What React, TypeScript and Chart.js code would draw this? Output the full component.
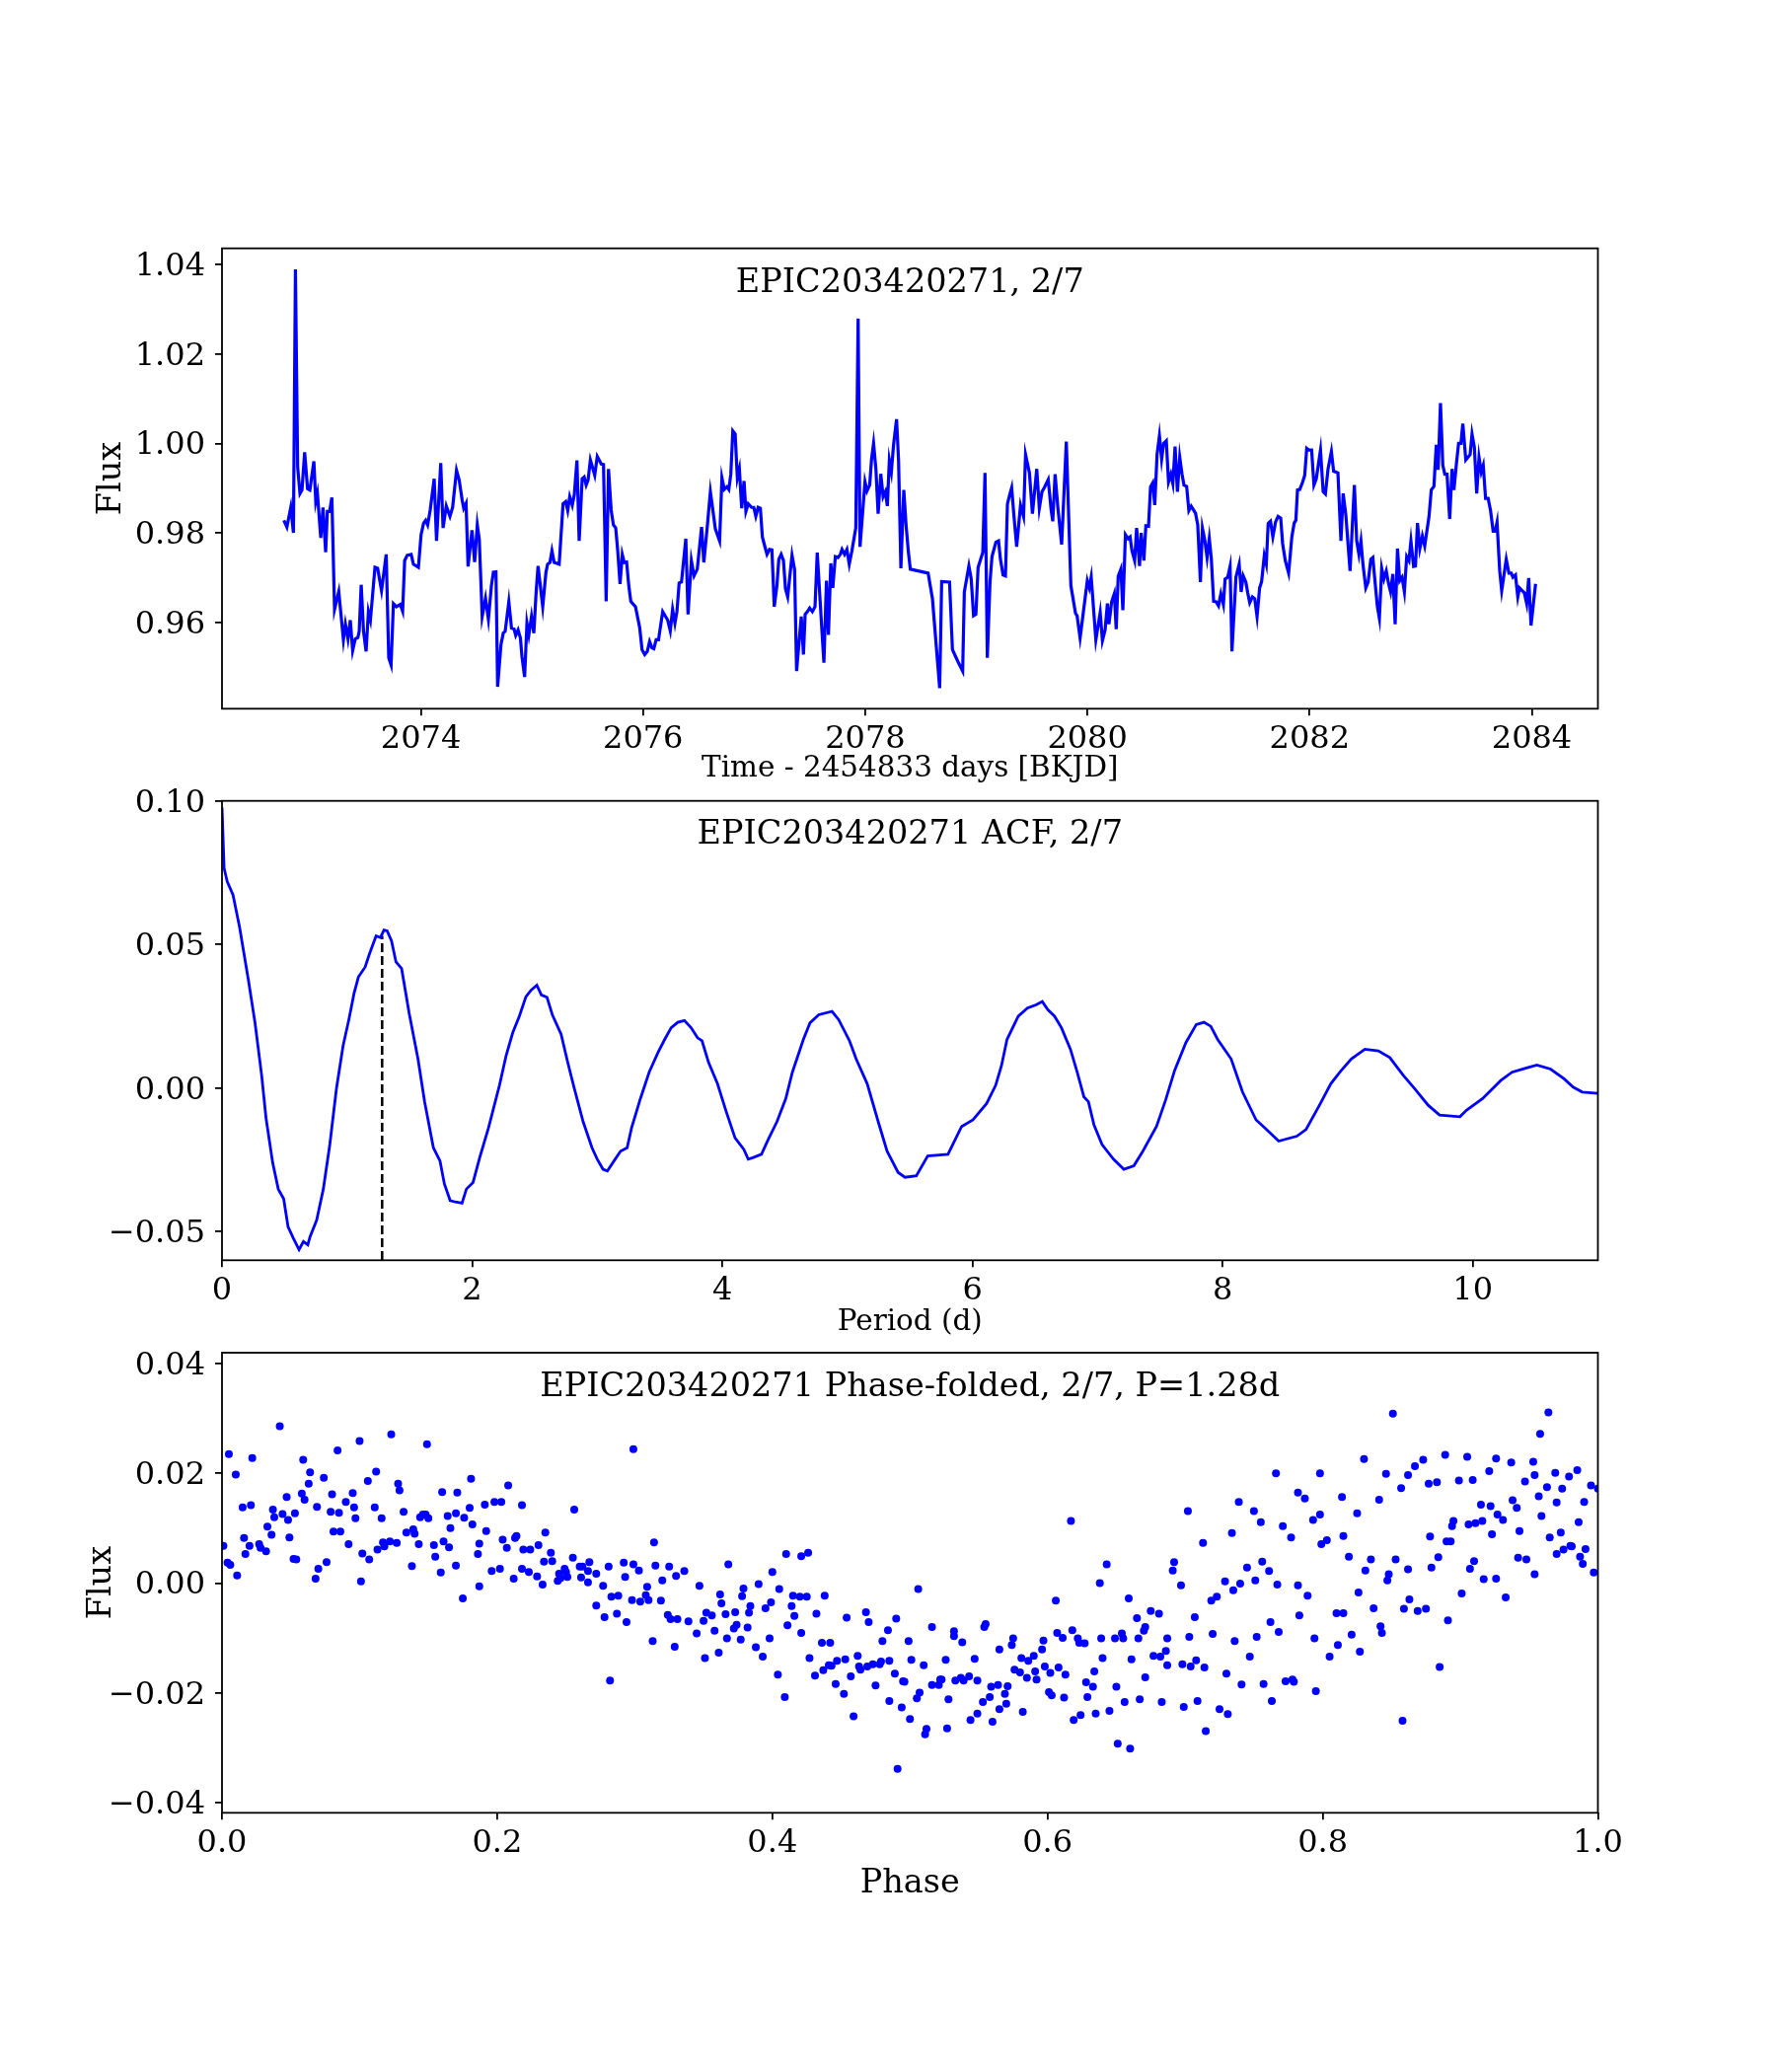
import React, { useEffect, useRef } from "react";
import { Chart, registerables } from "chart.js";

Chart.register(...registerables);

const FONT = "'DejaVu Serif', 'Liberation Serif', serif";
const BLUE = "#0000ff";

// ---------- Panel 1: light curve ----------
const lcTime = [
  2072.767, 2072.794, 2072.829, 2072.853, 2072.871, 2072.891, 2072.912, 2072.930, 2072.954, 2072.980,
  2073.001, 2073.037, 2073.054, 2073.069, 2073.099, 2073.119, 2073.143, 2073.158, 2073.179, 2073.199,
  2073.223, 2073.261, 2073.303, 2073.321, 2073.344, 2073.365, 2073.386, 2073.409, 2073.433, 2073.445,
  2073.463, 2073.484, 2073.507, 2073.528, 2073.546, 2073.587, 2073.611, 2073.646, 2073.688, 2073.711,
  2073.732, 2073.753, 2073.780, 2073.815, 2073.836, 2073.854, 2073.877, 2073.913, 2073.933, 2073.978,
  2074.002, 2074.025, 2074.043, 2074.061, 2074.084, 2074.120, 2074.141, 2074.179, 2074.200, 2074.229,
  2074.262, 2074.286, 2074.321, 2074.345, 2074.372, 2074.386, 2074.407, 2074.425, 2074.460, 2074.484,
  2074.508, 2074.526, 2074.552, 2074.582, 2074.608, 2074.635, 2074.653, 2074.676, 2074.691, 2074.721,
  2074.742, 2074.759, 2074.792, 2074.816, 2074.839, 2074.854, 2074.875, 2074.896, 2074.910, 2074.934,
  2074.955, 2074.972, 2074.996, 2075.017, 2075.038, 2075.055, 2075.097, 2075.126, 2075.141, 2075.162,
  2075.180, 2075.200, 2075.245, 2075.280, 2075.304, 2075.322, 2075.340, 2075.363, 2075.381, 2075.405,
  2075.425, 2075.452, 2075.470, 2075.488, 2075.505, 2075.526, 2075.565, 2075.588, 2075.624, 2075.644,
  2075.668, 2075.689, 2075.713, 2075.733, 2075.754, 2075.772, 2075.793, 2075.813, 2075.831, 2075.852,
  2075.872, 2075.890, 2075.932, 2075.970, 2075.991, 2076.015, 2076.038, 2076.059, 2076.080, 2076.097,
  2076.118, 2076.139, 2076.177, 2076.222, 2076.245, 2076.266, 2076.287, 2076.305, 2076.325, 2076.346,
  2076.385, 2076.405, 2076.435, 2076.459, 2076.488, 2076.527, 2076.547, 2076.577, 2076.606, 2076.651,
  2076.689, 2076.710, 2076.731, 2076.755, 2076.772, 2076.790, 2076.808, 2076.829, 2076.849, 2076.867,
  2076.888, 2076.909, 2076.926, 2076.947, 2076.977, 2076.997, 2077.015, 2077.036, 2077.056, 2077.074,
  2077.095, 2077.116, 2077.139, 2077.160, 2077.181, 2077.205, 2077.222, 2077.243, 2077.264, 2077.282,
  2077.302, 2077.341, 2077.364, 2077.382, 2077.424, 2077.444, 2077.459, 2077.480, 2077.500, 2077.524,
  2077.548, 2077.568, 2077.607, 2077.628, 2077.651, 2077.669, 2077.690, 2077.708, 2077.731, 2077.755,
  2077.776, 2077.791, 2077.814, 2077.835, 2077.856, 2077.880, 2077.915, 2077.936, 2077.953, 2077.998,
  2078.016, 2078.040, 2078.057, 2078.075, 2078.096, 2078.116, 2078.140, 2078.161, 2078.181, 2078.199,
  2078.217, 2078.235, 2078.255, 2078.282, 2078.300, 2078.321, 2078.347, 2078.368, 2078.389, 2078.406,
  2078.566, 2078.605, 2078.670, 2078.688, 2078.759, 2078.785, 2078.833, 2078.877, 2078.892, 2078.933,
  2078.954, 2078.975, 2078.996, 2079.016, 2079.058, 2079.078, 2079.099, 2079.123, 2079.141, 2079.176,
  2079.200, 2079.217, 2079.241, 2079.262, 2079.280, 2079.300, 2079.318, 2079.339, 2079.363, 2079.398,
  2079.425, 2079.443, 2079.478, 2079.505, 2079.544, 2079.567, 2079.591, 2079.612, 2079.647, 2079.674,
  2079.688, 2079.709, 2079.733, 2079.768, 2079.810, 2079.851, 2079.893, 2079.907, 2079.934, 2079.975,
  2079.999, 2080.017, 2080.034, 2080.076, 2080.115, 2080.135, 2080.159, 2080.180, 2080.194, 2080.218,
  2080.242, 2080.259, 2080.277, 2080.301, 2080.319, 2080.342, 2080.366, 2080.384, 2080.401, 2080.425,
  2080.443, 2080.469, 2080.484, 2080.508, 2080.526,
  2080.550, 2080.568, 2080.588, 2080.606, 2080.627, 2080.648, 2080.668, 2080.686, 2080.710, 2080.730,
  2080.751, 2080.769, 2080.789, 2080.810, 2080.831, 2080.851, 2080.869, 2080.893, 2080.913, 2080.934,
  2080.973, 2080.993, 2081.017, 2081.035, 2081.056, 2081.077, 2081.097, 2081.115, 2081.136, 2081.159,
  2081.180, 2081.201, 2081.224, 2081.239, 2081.263, 2081.284, 2081.301, 2081.337, 2081.366, 2081.384,
  2081.402, 2081.426, 2081.443, 2081.461, 2081.485, 2081.506, 2081.527, 2081.550, 2081.568, 2081.592,
  2081.610, 2081.627, 2081.648, 2081.669, 2081.693, 2081.716, 2081.740, 2081.757, 2081.781, 2081.811,
  2081.840, 2081.861, 2081.876, 2081.891, 2081.911, 2081.935, 2081.956, 2081.974, 2081.994, 2082.018,
  2082.039, 2082.060, 2082.098, 2082.122, 2082.142, 2082.166, 2082.196, 2082.216, 2082.255, 2082.282,
  2082.302, 2082.326, 2082.364, 2082.403, 2082.424, 2082.444, 2082.462, 2082.480, 2082.506, 2082.527,
  2082.551, 2082.569, 2082.589, 2082.610, 2082.628, 2082.649, 2082.669, 2082.690, 2082.711, 2082.729,
  2082.749, 2082.770, 2082.791, 2082.811, 2082.832, 2082.853, 2082.874, 2082.894, 2082.912, 2082.936,
  2082.953, 2082.971, 2082.992, 2083.015, 2083.036, 2083.075, 2083.095, 2083.119, 2083.140, 2083.157,
  2083.178, 2083.199, 2083.217, 2083.237, 2083.261, 2083.282, 2083.299, 2083.320, 2083.341, 2083.362,
  2083.379, 2083.406, 2083.445, 2083.462, 2083.483, 2083.504, 2083.525, 2083.545, 2083.563, 2083.584,
  2083.607, 2083.628, 2083.652, 2083.670, 2083.687, 2083.711, 2083.729, 2083.770, 2083.794, 2083.815,
  2083.830, 2083.853, 2083.874, 2083.889, 2083.913, 2083.933, 2083.954, 2083.972, 2083.993, 2084.034,
];

const lcFlux = [
  0.9828, 0.9813, 0.9857, 0.9800, 1.0389, 0.9947, 0.9888, 0.9896, 0.9980, 0.9899,
  0.9896, 0.9960, 0.9870, 0.9888, 0.9789, 0.9857, 0.9757, 0.9848, 0.9848, 0.9879,
  0.9629, 0.9669, 0.9561, 0.9596, 0.9563, 0.9605, 0.9537, 0.9563, 0.9566, 0.9580,
  0.9684, 0.9580, 0.9535, 0.9624, 0.9605, 0.9723, 0.9721, 0.9671, 0.9752, 0.9521,
  0.9505, 0.9642, 0.9635, 0.9640, 0.9625, 0.9738, 0.9750, 0.9752, 0.9730, 0.9723,
  0.9796, 0.9822, 0.9828, 0.9818, 0.9851, 0.9921, 0.9782, 0.9956, 0.9811, 0.9860,
  0.9837, 0.9857, 0.9940, 0.9918, 0.9873, 0.9855, 0.9866, 0.9725, 0.9806, 0.9735,
  0.9818, 0.9785, 0.9613, 0.9654, 0.9607, 0.9682, 0.9712, 0.9713, 0.9456, 0.9550,
  0.9576, 0.9580, 0.9646, 0.9587, 0.9585, 0.9571, 0.9583, 0.9565, 0.9524, 0.9478,
  0.9598, 0.9572, 0.9613, 0.9576, 0.9669, 0.9726, 0.9635, 0.9712, 0.9730, 0.9734,
  0.9760, 0.9734, 0.9730, 0.9865, 0.9870, 0.9850, 0.9881, 0.9862, 0.9885, 0.9962,
  0.9782, 0.9921, 0.9925, 0.9907, 0.9918, 0.9963, 0.9929, 0.9971, 0.9954, 0.9953,
  0.9647, 0.9943, 0.9851, 0.9818, 0.9811, 0.9760, 0.9686, 0.9752, 0.9734, 0.9735,
  0.9681, 0.9647, 0.9635, 0.9588, 0.9539, 0.9528, 0.9535, 0.9557, 0.9543, 0.9541,
  0.9561, 0.9561, 0.9624, 0.9605, 0.9581, 0.9629, 0.9598, 0.9624, 0.9688, 0.9690,
  0.9787, 0.9618, 0.9738, 0.9704, 0.9719, 0.9813, 0.9734, 0.9811, 0.9892, 0.9809,
  0.9782, 0.9923, 0.9897, 0.9903, 0.9897, 0.9931, 1.0028, 1.0021, 0.9923, 0.9943,
  0.9855, 0.9916, 0.9848, 0.9865, 0.9857, 0.9857, 0.9837, 0.9857, 0.9855, 0.9791,
  0.9771, 0.9752, 0.9763, 0.9762, 0.9635, 0.9682, 0.9741, 0.9752, 0.9738, 0.9675,
  0.9657, 0.9750, 0.9718, 0.9491, 0.9613, 0.9528, 0.9618, 0.9624, 0.9632, 0.9624,
  0.9635, 0.9756, 0.9594, 0.9510, 0.9693, 0.9572, 0.9732, 0.9677, 0.9747, 0.9745,
  0.9752, 0.9763, 0.9752, 0.9763, 0.9730, 0.9760, 0.9811, 1.0279, 0.9769, 0.9914,
  0.9894, 0.9907, 0.9965, 1.0000, 0.9943, 0.9843, 0.9932, 0.9881, 0.9892, 0.9860,
  0.9962, 0.9936, 0.9997, 1.0054, 0.9962, 0.9721, 0.9896, 0.9816, 0.9756, 0.9719,
  0.9710, 0.9653, 0.9453, 0.9691, 0.9690, 0.9539, 0.9513, 0.9491, 0.9668, 0.9726,
  0.9697, 0.9615, 0.9618, 0.9723, 0.9756, 0.9934, 0.9521, 0.9690, 0.9747, 0.9779,
  0.9782, 0.9741, 0.9706, 0.9704, 0.9865, 0.9885, 0.9901, 0.9837, 0.9769, 0.9862,
  0.9837, 0.9975, 0.9934, 0.9843, 0.9943, 0.9855, 0.9892, 0.9901, 0.9919, 0.9850,
  0.9826, 0.9931, 0.9859, 0.9774, 1.0004, 0.9682, 0.9620, 0.9615, 0.9565, 0.9646,
  0.9693, 0.9677, 0.9701, 0.9561, 0.9622, 0.9559, 0.9583, 0.9642, 0.9596, 0.9646,
  0.9664, 0.9585, 0.9703, 0.9719, 0.9627, 0.9796, 0.9787, 0.9791, 0.9760, 0.9738,
  0.9811, 0.9726, 0.9800, 0.9738, 0.9816,
  0.9815, 0.9903, 0.9912, 0.9862, 0.9976, 1.0017, 0.9965, 1.0000, 1.0006, 0.9914,
  0.9931, 0.9910, 0.9993, 0.9892, 0.9969, 0.9932, 0.9907, 0.9904, 0.9850, 0.9860,
  0.9844, 0.9818, 0.9690, 0.9811, 0.9785, 0.9745, 0.9787, 0.9743, 0.9647, 0.9646,
  0.9637, 0.9664, 0.9640, 0.9697, 0.9701, 0.9725, 0.9535, 0.9701, 0.9730, 0.9668,
  0.9704, 0.9690, 0.9666, 0.9644, 0.9657, 0.9653, 0.9613, 0.9677, 0.9691, 0.9749,
  0.9730, 0.9821, 0.9826, 0.9791, 0.9824, 0.9837, 0.9833, 0.9776, 0.9738, 0.9710,
  0.9791, 0.9822, 0.9828, 0.9896, 0.9897, 0.9912, 0.9929, 0.9989, 0.9985, 0.9985,
  0.9907, 0.9921, 0.9985, 0.9892, 0.9887, 0.9943, 0.9982, 0.9938, 0.9934, 0.9782,
  0.9888, 0.9840, 0.9715, 0.9907, 0.9782, 0.9752, 0.9782, 0.9730, 0.9677, 0.9690,
  0.9741, 0.9745, 0.9690, 0.9635, 0.9609, 0.9721, 0.9697, 0.9715, 0.9686, 0.9668,
  0.9708, 0.9596, 0.9765, 0.9693, 0.9701, 0.9668, 0.9747, 0.9738, 0.9782, 0.9725,
  0.9726, 0.9822, 0.9765, 0.9793, 0.9771, 0.9837, 0.9896, 0.9904, 0.9997, 0.9941,
  1.0090, 0.9951, 0.9931, 0.9931, 0.9831, 0.9943, 0.9896, 0.9951, 1.0000, 1.0000,
  1.0044, 0.9963, 0.9975, 1.0021, 0.9991, 0.9888, 0.9969, 0.9936, 0.9951, 0.9877,
  0.9877, 0.9851, 0.9804, 0.9804, 0.9824, 0.9715, 0.9671, 0.9741, 0.9710, 0.9710,
  0.9701, 0.9706, 0.9657, 0.9677, 0.9671, 0.9666, 0.9642, 0.9699, 0.9593, 0.9686,
];

const lcXTicks = [2074, 2076, 2078, 2080, 2082, 2084];
const lcYTicks = [0.96, 0.98, 1.0, 1.02, 1.04];

// ---------- Panel 2: autocorrelation ----------
const acfPeriod = [
  0, 0.017, 0.042, 0.088, 0.141, 0.211, 0.264, 0.317, 0.352, 0.405,
  0.450, 0.493, 0.528, 0.570, 0.616, 0.651, 0.686, 0.704, 0.757, 0.810,
  0.862, 0.915, 0.968, 1.014, 1.056, 1.091, 1.144, 1.179, 1.232, 1.267,
  1.295, 1.320, 1.355, 1.391, 1.436, 1.496, 1.567, 1.620, 1.690, 1.743,
  1.778, 1.824, 1.866, 1.919, 1.954, 2.007, 2.060, 2.130, 2.218, 2.271,
  2.324, 2.377, 2.430, 2.472, 2.517, 2.553, 2.598, 2.641, 2.711, 2.764,
  2.817, 2.887, 2.958, 3.000, 3.046, 3.081, 3.134, 3.186, 3.239, 3.274,
  3.345, 3.415, 3.486, 3.539, 3.591, 3.644, 3.697, 3.750, 3.802, 3.838,
  3.890, 3.961, 4.031, 4.102, 4.172, 4.207, 4.243, 4.313, 4.366, 4.437,
  4.507, 4.560, 4.648, 4.701, 4.771, 4.877, 4.930, 5.017, 5.070, 5.158,
  5.246, 5.317, 5.405,
  5.460, 5.551, 5.642, 5.804, 5.913, 6.004, 6.113, 6.185, 6.232, 6.276,
  6.366, 6.439, 6.511, 6.558, 6.602, 6.656, 6.711, 6.783, 6.837, 6.891,
  6.927, 6.971, 7.036, 7.127, 7.210, 7.290, 7.362, 7.471, 7.544, 7.616,
  7.706, 7.789, 7.851, 7.905, 7.960, 8.068, 8.159, 8.267, 8.340, 8.448,
  8.593, 8.666, 8.774, 8.865, 8.937, 9.028, 9.137, 9.245, 9.336, 9.444,
  9.535, 9.643, 9.734, 9.897, 9.951, 10.078, 10.223, 10.313, 10.422, 10.512,
  10.621, 10.730, 10.802, 10.875, 11.0,
];

const acfValue = [
  0.0977, 0.0765, 0.0719, 0.0673, 0.0559, 0.0376, 0.0227, 0.0044, -0.0105, -0.0260,
  -0.0352, -0.0386, -0.0483, -0.0523, -0.0563, -0.0535, -0.0546, -0.0518, -0.0460, -0.0352,
  -0.0197, -0.0002, 0.0147, 0.0238, 0.0330, 0.0387, 0.0421, 0.0467, 0.0530, 0.0524,
  0.0550, 0.0547, 0.0513, 0.0439, 0.0416, 0.0261, 0.0101, -0.0048, -0.0208, -0.0254,
  -0.0334, -0.0392, -0.0397, -0.0401, -0.0352, -0.0329, -0.0243, -0.0140, 0.0009, 0.0112,
  0.0192, 0.0250, 0.0318, 0.0341, 0.0358, 0.0324, 0.0316, 0.0255, 0.0187, 0.0089,
  -0.0002, -0.0117, -0.0208, -0.0248, -0.0283, -0.0289, -0.0254, -0.0220, -0.0208, -0.0140,
  -0.0037, 0.0055, 0.0124, 0.0169, 0.0210, 0.0229, 0.0235, 0.0210, 0.0175, 0.0164,
  0.0089, 0.0015, -0.0082, -0.0174, -0.0214, -0.0248, -0.0243, -0.0231, -0.0180, -0.0117,
  -0.0037, 0.0055, 0.0169, 0.0227, 0.0255, 0.0267, 0.0238, 0.0164, 0.0101, 0.0015,
  -0.0117, -0.0220, -0.0294,
  -0.0311, -0.0306, -0.0237, -0.0231, -0.0134, -0.0111, -0.0054, 0.0009, 0.0078, 0.0169,
  0.0250, 0.0278, 0.0290, 0.0301, 0.0273, 0.0250, 0.0210, 0.0135, 0.0055, -0.0031,
  -0.0048, -0.0128, -0.0197, -0.0248, -0.0283, -0.0271, -0.0220, -0.0134, -0.0042, 0.0061,
  0.0158, 0.0221, 0.0229, 0.0215, 0.0169, 0.0101, -0.0014, -0.0111, -0.0140, -0.0185,
  -0.0168, -0.0145, -0.0060, 0.0015, 0.0055, 0.0101, 0.0135, 0.0129, 0.0106, 0.0044,
  -0.0002, -0.0060, -0.0094, -0.0100, -0.0077, -0.0037, 0.0026, 0.0055, 0.0069, 0.0080,
  0.0066, 0.0032, 0.0003, -0.0014, -0.0019,
];

const bestPeriod = 1.28;
const bestPeriodAcf = 0.053;
const acfXTicks = [0, 2, 4, 6, 8, 10];
const acfYTicks = [-0.05, 0.0, 0.05, 0.1];

// ---------- Panel 3: phase-folded ----------
const phase = [
  0.001, 0.005, 0.004, 0.006, 0.010, 0.011, 0.015, 0.016, 0.017, 0.021,
  0.020, 0.022, 0.027, 0.028, 0.032, 0.033, 0.036, 0.037, 0.038, 0.042,
  0.044, 0.047, 0.048, 0.049, 0.052, 0.054, 0.053, 0.058, 0.059, 0.060,
  0.063, 0.064, 0.068, 0.069, 0.070, 0.074, 0.076, 0.079, 0.080, 0.081,
  0.084, 0.085, 0.086, 0.090, 0.092, 0.095, 0.096, 0.097, 0.100, 0.101,
  0.102, 0.106, 0.107, 0.111, 0.112, 0.113, 0.116, 0.117, 0.118, 0.122,
  0.123, 0.127, 0.128, 0.129, 0.132, 0.134, 0.138, 0.139, 0.140, 0.143,
  0.144, 0.146, 0.149, 0.148, 0.150, 0.154, 0.155, 0.159, 0.160, 0.161,
  0.164, 0.165, 0.166, 0.170, 0.170, 0.171, 0.175, 0.176, 0.180, 0.181,
  0.182, 0.186, 0.187, 0.187, 0.191, 0.192, 0.196, 0.198, 0.202, 0.203,
  0.204, 0.207, 0.208, 0.212, 0.213, 0.214, 0.218, 0.218, 0.219, 0.223,
  0.224, 0.229, 0.230, 0.233, 0.234, 0.235, 0.239, 0.240, 0.244, 0.245,
  0.246, 0.249, 0.250, 0.251, 0.255, 0.256, 0.260, 0.261, 0.262, 0.266,
  0.266, 0.267, 0.272, 0.272, 0.277, 0.278, 0.281, 0.282, 0.283, 0.287,
  0.288, 0.292, 0.293, 0.294, 0.298, 0.299, 0.299, 0.303, 0.304, 0.308,
  0.309, 0.310, 0.313, 0.314, 0.315, 0.319, 0.320, 0.324, 0.325, 0.326,
  0.329, 0.330, 0.331, 0.336, 0.339,
  0.345, 0.347, 0.350, 0.351, 0.352, 0.356, 0.358, 0.361, 0.362, 0.363,
  0.366, 0.367, 0.368, 0.372, 0.373, 0.374, 0.377, 0.378, 0.379, 0.382,
  0.383, 0.384, 0.388, 0.390, 0.393, 0.395, 0.398, 0.399, 0.400, 0.404,
  0.405, 0.409, 0.410, 0.411, 0.414, 0.415, 0.416, 0.420, 0.421, 0.421,
  0.425, 0.426, 0.427, 0.431, 0.432, 0.436, 0.437, 0.438, 0.441, 0.442,
  0.443, 0.446, 0.447, 0.452, 0.453, 0.454, 0.457, 0.459, 0.462, 0.463,
  0.464, 0.468, 0.469, 0.470, 0.473, 0.475, 0.478, 0.479, 0.480, 0.484,
  0.485, 0.485, 0.489, 0.490, 0.491, 0.494, 0.495, 0.496, 0.499, 0.500,
  0.501, 0.505, 0.506, 0.507, 0.510, 0.511, 0.512, 0.516, 0.516, 0.521,
  0.522, 0.523, 0.526, 0.527, 0.528, 0.532, 0.532, 0.533, 0.537, 0.538,
  0.539, 0.543, 0.544, 0.547, 0.549, 0.549, 0.553, 0.554, 0.555, 0.558,
  0.559, 0.560, 0.564, 0.565, 0.565, 0.569, 0.570, 0.571, 0.574, 0.575,
  0.576, 0.580, 0.581, 0.582, 0.585, 0.586, 0.590, 0.591, 0.592, 0.596,
  0.597, 0.598, 0.601, 0.602, 0.603, 0.606, 0.607, 0.608, 0.611, 0.612,
  0.613, 0.617, 0.618, 0.619, 0.622, 0.623, 0.624, 0.627, 0.628, 0.629,
  0.633, 0.634, 0.635, 0.638, 0.639, 0.640, 0.643, 0.645, 0.649, 0.650,
  0.651, 0.654, 0.655, 0.656, 0.659, 0.660, 0.661, 0.665, 0.666, 0.667,
  0.670, 0.671, 0.671, 0.675, 0.677,
  0.681, 0.682, 0.683, 0.686, 0.687, 0.687, 0.691, 0.692, 0.697, 0.698,
  0.699, 0.702, 0.703, 0.704, 0.707, 0.708, 0.709, 0.713, 0.714, 0.715,
  0.719, 0.720, 0.723, 0.725, 0.729, 0.730, 0.731, 0.734, 0.735, 0.736,
  0.739, 0.740, 0.741, 0.745, 0.747, 0.750, 0.751, 0.752, 0.755, 0.756,
  0.757, 0.761, 0.762, 0.763, 0.766, 0.767, 0.768, 0.771, 0.773, 0.777,
  0.778, 0.779, 0.782, 0.782, 0.783, 0.787, 0.789, 0.793, 0.794, 0.795,
  0.798, 0.798, 0.799, 0.803, 0.805, 0.810, 0.811, 0.814, 0.815, 0.815,
  0.819, 0.821, 0.825, 0.826, 0.827, 0.830, 0.831, 0.835, 0.837, 0.841,
  0.842, 0.843, 0.846, 0.847, 0.848, 0.851, 0.853, 0.857, 0.858, 0.859,
  0.862, 0.862, 0.863, 0.867, 0.869, 0.873, 0.875, 0.877, 0.878, 0.879,
  0.883, 0.884, 0.885, 0.889, 0.890, 0.891, 0.893, 0.894, 0.895, 0.899,
  0.901, 0.905, 0.906, 0.907, 0.909, 0.910, 0.911, 0.915, 0.916, 0.917,
  0.921, 0.922, 0.923, 0.926, 0.926, 0.927, 0.931, 0.933, 0.937, 0.938,
  0.941, 0.942, 0.943, 0.947, 0.948, 0.953, 0.954, 0.954, 0.957, 0.958,
  0.959, 0.963, 0.964, 0.965, 0.969, 0.970, 0.970, 0.973, 0.974, 0.975,
  0.979, 0.980, 0.981, 0.985, 0.986, 0.987, 0.989, 0.990, 0.991, 0.995,
  0.997, 1.000,
];

const phaseFlux = [
  0.0068, 0.0235, 0.0037, 0.0033, 0.0198, 0.0014, 0.0138, 0.0082, 0.0053, 0.0142,
  0.0068, 0.0228, 0.0071, 0.0064, 0.0058, 0.0103, 0.0088, 0.0134, 0.0120, 0.0286,
  0.0126, 0.0157, 0.0115, 0.0083, 0.0044, 0.0043, 0.0127, 0.0163, 0.0225, 0.0152,
  0.0181, 0.0202, 0.0008, 0.0139, 0.0026, 0.0192, 0.0038, 0.0130, 0.0162, 0.0094,
  0.0242, 0.0128, 0.0094, 0.0148, 0.0071, 0.0164, 0.0138, 0.0118, 0.0259, 0.0003,
  0.0054, 0.0186, 0.0043, 0.0138, 0.0203, 0.0061, 0.0118, 0.0074, 0.0067, 0.0076,
  0.0271, 0.0073, 0.0181, 0.0169, 0.0130, 0.0092, 0.0031, 0.0098, 0.0090, 0.0071,
  0.0120, 0.0125, 0.0253, 0.0125, 0.0118, 0.0069, 0.0048, 0.0019, 0.0166, 0.0076,
  0.0122, 0.0065, 0.0100, 0.0127, 0.0032, 0.0165, -0.0028, 0.0119, 0.0137, 0.0190,
  0.0107, 0.0053, 0.0072, -0.0006, 0.0143, 0.0095, 0.0022, 0.0148, 0.0026, 0.0148,
  0.0079, 0.0064, 0.0178, 0.0008, 0.0082, 0.0086, 0.0026, 0.0142, 0.0061, 0.0020,
  0.0061, 0.0012, 0.0069, -0.0003, 0.0039, 0.0092, 0.0055, 0.0040, 0.0004, 0.0017,
  0.0009, 0.0026, 0.0020, 0.0011, 0.0046, 0.0134, 0.0030, 0.0010, 0.0030, 0.0022,
  0.0001, 0.0038, 0.0017, -0.0041, -0.0005, -0.0062, 0.0030, -0.0178, -0.0025, -0.0056,
  -0.0023, 0.0037, 0.0011, -0.0071, -0.0031, 0.0244, 0.0034, 0.0023, -0.0034, -0.0022,
  -0.0007, -0.0031, -0.0106, 0.0074, 0.0032, -0.0032, 0.0005, -0.0058, 0.0030, -0.0066,
  -0.0116, 0.0013, -0.0066, 0.0022, -0.0070,
  -0.0092, -0.0005, -0.0069, -0.0137, -0.0054, -0.0059, -0.0087, -0.0127, -0.0021, -0.0037,
  -0.0057, -0.0101, 0.0034, -0.0083, -0.0053, -0.0076, -0.0103, -0.0024, -0.0010, -0.0081,
  -0.0054, -0.0042, -0.0117, -0.0002, -0.0134, -0.0046, -0.0101, -0.0035, 0.0020, -0.0167,
  -0.0011, -0.0208, 0.0053, -0.0077, -0.0042, -0.0023, -0.0060, -0.0025, -0.0091, 0.0049,
  -0.0025, 0.0055, -0.0137, -0.0169, -0.0056, -0.0109, -0.0159, -0.0023, -0.0150, -0.0109,
  -0.0151, -0.0184, -0.0142, -0.0202, -0.0139, -0.0063, -0.0170, -0.0243, -0.0133, -0.0152,
  -0.0158, -0.0053, -0.0152, -0.0071, -0.0148, -0.0187, -0.0148, -0.0143, -0.0106, -0.0086,
  -0.0215, -0.0142, -0.0165, -0.0065, -0.0339, -0.0227, -0.0179, -0.0180, -0.0106, -0.0248,
  -0.0140, -0.0210, -0.0011, -0.0200, -0.0150, -0.0276, -0.0266, -0.0080, -0.0186, -0.0186,
  -0.0176, -0.0176, -0.0140, -0.0265, -0.0212, -0.0097, -0.0088, -0.0178, -0.0173, -0.0108,
  -0.0178, -0.0170, -0.0250, -0.0138, -0.0178, -0.0238, -0.0217, -0.0080, -0.0075, -0.0208,
  -0.0189, -0.0253, -0.0186, -0.0121, -0.0230, -0.0202, -0.0220, -0.0188, -0.0113, -0.0101,
  -0.0158, -0.0163, -0.0137, -0.0235, -0.0173, -0.0142, -0.0133, -0.0161, -0.0176, -0.0121,
  -0.0105, -0.0152, -0.0199, -0.0164, -0.0205, -0.0032, -0.0091, -0.0154, -0.0100, -0.0209,
  -0.0167, 0.0113, -0.0086, -0.0250, -0.0101, -0.0109, -0.0241, -0.0110, -0.0181, -0.0208,
  -0.0189, -0.0161, -0.0238, 0.0000, -0.0101, -0.0137, 0.0034, -0.0233, -0.0101, -0.0189,
  -0.0293, -0.0092, -0.0101, -0.0217, -0.0028, -0.0302, -0.0139, -0.0064, -0.0101, -0.0212,
  -0.0087, -0.0080, -0.0172, -0.0051, -0.0133,
  -0.0056, -0.0134, -0.0217, -0.0124, -0.0101, -0.0150, 0.0023, 0.0038, -0.0004, -0.0148,
  -0.0226, 0.0131, -0.0098, -0.0152, -0.0062, -0.0141, -0.0215, 0.0073, -0.0154, -0.0270,
  -0.0032, -0.0093, -0.0025, -0.0230, 0.0003, -0.0165, -0.0239, 0.0091, -0.0013, -0.0106,
  0.0148, -0.0001, -0.0185, 0.0028, -0.0134, 0.0131, 0.0005, -0.0098, 0.0111, 0.0039,
  -0.0184, 0.0022, -0.0071, -0.0215, 0.0200, -0.0003, -0.0089, 0.0104, -0.0179, 0.0083,
  -0.0176, -0.0180, 0.0165, -0.0004, -0.0059, 0.0154, -0.0023, 0.0115, -0.0101, -0.0197,
  0.0200, 0.0125, 0.0071, 0.0078, -0.0134, -0.0055, -0.0113, 0.0157, 0.0086, -0.0055,
  0.0048, -0.0094, 0.0127, -0.0017, -0.0125, 0.0226, 0.0023, 0.0043, -0.0046, 0.0152,
  -0.0079, -0.0091, 0.0199, 0.0005, 0.0016, 0.0309, 0.0043, 0.0173, -0.0251, -0.0047,
  0.0197, 0.0025, -0.0030, 0.0213, -0.0051, 0.0225, -0.0047, 0.0181, 0.0085, 0.0028,
  0.0184, 0.0047, -0.0153, 0.0234, 0.0076, -0.0068, 0.0076, 0.0104, 0.0113, 0.0187,
  -0.0019, 0.0230, 0.0107, 0.0026, 0.0188, 0.0040, 0.0109, 0.0143, 0.0113, 0.0007,
  0.0204, 0.0140, 0.0089, 0.0227, 0.0008, 0.0125, 0.0115, -0.0026, 0.0220, 0.0151,
  0.0137, 0.0046, 0.0095, 0.0185, 0.0043, 0.0221, 0.0197, 0.0016, 0.0158, 0.0272,
  0.0122, 0.0175, 0.0311, 0.0083, 0.0201, 0.0147, 0.0053, 0.0092, 0.0172, 0.0061,
  0.0194, 0.0068, 0.0067, 0.0206, 0.0111, 0.0048, 0.0035, 0.0148, 0.0062, 0.0178,
  0.0019, 0.0172,
];

const phXTicks = [0, 0.2, 0.4, 0.6, 0.8, 1.0];
const phYTicks = [-0.04, -0.02, 0.0, 0.02, 0.04];

// ---------- helpers ----------
const pairs = (xs: number[], ys: number[]) =>
  xs.slice(0, Math.min(xs.length, ys.length)).map((x, i) => ({ x, y: ys[i] }));

const signed = (v: number, d: number) =>
  (v < -1e-12 ? "\u2212" : "") + Math.abs(v).toFixed(d);

const PLOT_LEFT = 225;
const PLOT_RIGHT = 1619.5;
const CANVAS_W = 1800;
// y tick labels are drawn as a 2-line label (empty first line) with a small
// line height, which nudges the text down so digits sit centred on the tick.
const Y_LABEL_NUDGE = 5.4;

const decorPlugin = {
  id: "decor",
  afterDatasetsDraw(chart: any, _args: any, opts: any) {
    const { ctx, chartArea: a } = chart;
    ctx.save();
    ctx.strokeStyle = "#000";
    ctx.lineWidth = 1.8;
    ctx.strokeRect(a.left, a.top, a.right - a.left, a.bottom - a.top);
    if (opts && opts.text) {
      ctx.fillStyle = "#000";
      ctx.font = `33.5px ${FONT}`;
      ctx.textAlign = "center";
      ctx.textBaseline = "alphabetic";
      ctx.fillText(opts.text, (a.left + a.right) / 2, a.top + opts.offset);
    }
    ctx.restore();
  },
};

function axis(o: {
  ticks: number[];
  fmt: (v: number) => string;
  min: number;
  max: number;
  isX: boolean;
  fit: number;
  title?: string;
  titleSize?: number;
  titlePad?: number;
}) {
  return {
    type: "linear",
    min: o.min,
    max: o.max,
    afterBuildTicks: (s: any) => {
      s.ticks = o.ticks.map((v) => ({ value: v }));
    },
    afterFit: (s: any) => {
      if (o.isX) s.height = o.fit;
      else s.width = o.fit;
    },
    grid: {
      display: true,
      drawOnChartArea: false,
      drawTicks: true,
      tickLength: 7,
      color: "#000",
      lineWidth: 1.8,
    },
    border: { display: false },
    ticks: {
      autoSkip: false,
      maxRotation: 0,
      minRotation: 0,
      padding: o.isX ? 5 : 10,
      color: "#000",
      font: o.isX
        ? { family: FONT, size: 32 }
        : { family: FONT, size: 32, lineHeight: `${Y_LABEL_NUDGE}px` },
      callback: (v: any) => (o.isX ? o.fmt(Number(v)) : ["", o.fmt(Number(v))]),
    },
    title: o.title
      ? {
          display: true,
          text: o.title,
          color: "#000",
          font: { family: FONT, size: o.titleSize },
          padding: o.isX ? { top: 0, bottom: o.titlePad } : { top: o.titlePad, bottom: 0 },
        }
      : { display: false },
  };
}

type Spec = {
  top: number;
  height: number;
  plotTop: number;
  plotBottom: number;
  build: (xAxisH: number) => any;
};

function baseOptions(spec: Spec, scales: any, title: string, titleOffset: number) {
  return {
    responsive: false,
    animation: false,
    devicePixelRatio: 1,
    events: [],
    layout: {
      padding: {
        top: spec.plotTop - spec.top,
        right: CANVAS_W - PLOT_RIGHT,
        bottom: 0,
        left: 0,
      },
    },
    plugins: {
      legend: { display: false },
      tooltip: { enabled: false },
      title: { display: false },
      decor: { text: title, offset: titleOffset },
    },
    scales,
  };
}

const specs: Spec[] = [];

specs.push({
  top: 170,
  height: 650,
  plotTop: 251.7,
  plotBottom: 718.3,
  build(xAxisH) {
    return {
      type: "scatter",
      data: {
        datasets: [
          {
            data: pairs(lcTime, lcFlux),
            showLine: true,
            borderColor: BLUE,
            borderWidth: 3.2,
            pointRadius: 0,
            tension: 0,
            fill: false,
          },
        ],
      },
      options: baseOptions(
        this,
        {
          x: axis({
            ticks: lcXTicks,
            fmt: (v) => String(Math.round(v)),
            min: 2072.21,
            max: 2084.595,
            isX: true,
            fit: xAxisH,
            title: "Time - 2454833 days [BKJD]",
            titleSize: 29.4,
            titlePad: 22.7,
          }),
          y: axis({
            ticks: lcYTicks,
            fmt: (v) => v.toFixed(2),
            min: 0.9407,
            max: 1.0436,
            isX: false,
            fit: PLOT_LEFT,
            title: "Flux",
            titleSize: 33.5,
            titlePad: 92.7,
          }),
        },
        "EPIC203420271, 2/7",
        44
      ),
      plugins: [decorPlugin],
    };
  },
});

specs.push({
  top: 740,
  height: 640,
  plotTop: 811.7,
  plotBottom: 1277.3,
  build(xAxisH) {
    return {
      type: "scatter",
      data: {
        datasets: [
          {
            data: pairs(acfPeriod, acfValue),
            showLine: true,
            borderColor: BLUE,
            borderWidth: 2.8,
            pointRadius: 0,
            tension: 0,
            fill: false,
          },
          {
            data: [
              { x: bestPeriod, y: -0.0599 },
              { x: bestPeriod, y: bestPeriodAcf },
            ],
            showLine: true,
            borderColor: "#000",
            borderWidth: 2.6,
            borderDash: [9, 4],
            pointRadius: 0,
            fill: false,
          },
        ],
      },
      options: baseOptions(
        this,
        {
          x: axis({
            ticks: acfXTicks,
            fmt: (v) => String(Math.round(v)),
            min: 0,
            max: 11,
            isX: true,
            fit: xAxisH,
            title: "Period (d)",
            titleSize: 29.4,
            titlePad: 22.3,
          }),
          y: axis({
            ticks: acfYTicks,
            fmt: (v) => signed(v, 2),
            min: -0.06,
            max: 0.1,
            isX: false,
            fit: PLOT_LEFT,
          }),
        },
        "EPIC203420271 ACF, 2/7",
        43.5
      ),
      plugins: [decorPlugin],
    };
  },
});

specs.push({
  top: 1300,
  height: 660,
  plotTop: 1371,
  plotBottom: 1837.3,
  build(xAxisH) {
    return {
      type: "scatter",
      data: {
        datasets: [
          {
            data: pairs(phase, phaseFlux),
            showLine: false,
            pointRadius: 4,
            pointBackgroundColor: BLUE,
            pointBorderColor: BLUE,
            pointBorderWidth: 0,
          },
        ],
      },
      options: baseOptions(
        this,
        {
          x: axis({
            ticks: phXTicks,
            fmt: (v) => v.toFixed(1),
            min: 0,
            max: 1,
            isX: true,
            fit: xAxisH,
            title: "Phase",
            titleSize: 33.5,
            titlePad: 31,
          }),
          y: axis({
            ticks: phYTicks,
            fmt: (v) => signed(v, 2),
            min: -0.0419,
            max: 0.042,
            isX: false,
            fit: PLOT_LEFT,
            title: "Flux",
            titleSize: 33.5,
            titlePad: 82.7,
          }),
        },
        "EPIC203420271 Phase-folded, 2/7, P=1.28d",
        44
      ),
      plugins: [decorPlugin],
    };
  },
});

function Panel({ spec }: { spec: Spec }) {
  const ref = useRef<HTMLCanvasElement | null>(null);
  useEffect(() => {
    if (!ref.current) return;
    const xAxisH = spec.top + spec.height - spec.plotBottom;
    const chart = new Chart(ref.current, spec.build.call(spec, xAxisH));
    return () => chart.destroy();
  }, [spec]);
  return (
    <canvas
      ref={ref}
      width={CANVAS_W}
      height={spec.height}
      style={{
        position: "absolute",
        left: 0,
        top: spec.top,
        width: CANVAS_W,
        height: spec.height,
        display: "block",
      }}
    />
  );
}

export default function App() {
  return (
    <div
      style={{
        position: "absolute",
        left: 0,
        top: 0,
        width: CANVAS_W,
        height: 2100,
        background: "#ffffff",
        overflow: "hidden",
      }}
    >
      {specs.map((s, i) => (
        <Panel key={i} spec={s} />
      ))}
    </div>
  );
}
